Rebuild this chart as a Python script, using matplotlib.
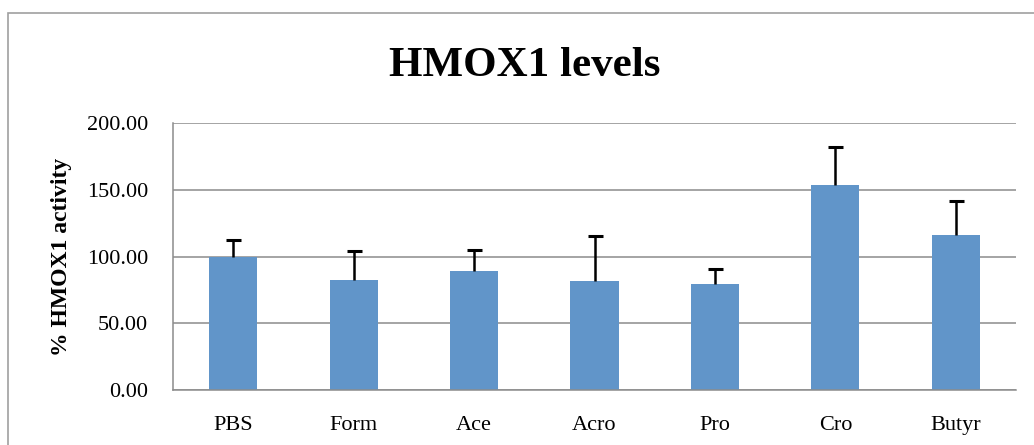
import matplotlib
matplotlib.use("Agg")
import matplotlib.pyplot as plt
from matplotlib.patches import Rectangle

# data
groups = ["PBS", "Form", "Ace", "Acro", "Pro", "Cro", "Butyr"]
activity = [100.0, 82.5, 89.3, 81.8, 79.5, 153.7, 116.2]
err_up = [12.5, 21.5, 15.5, 33.5, 11.0, 28.0, 25.0]
yticks = [0, 50, 100, 150, 200]

plt.rcParams["font.family"] = ["Liberation Serif", "DejaVu Serif"]

fig = plt.figure(figsize=(10.34, 4.45), dpi=100)
ax = fig.add_axes([173 / 1034, 1 - 390 / 445, 843 / 1034, 267 / 445])

x = range(len(groups))
ax.bar(x, activity, width=0.4, color="#6195c9", zorder=2)
eb = ax.errorbar(x, activity, yerr=[[0] * len(err_up), err_up], fmt="none",
                 ecolor="black", elinewidth=1.8, capsize=5.4, capthick=2.2,
                 zorder=3)
# only the upper cap, like the original
eb[1][0].set_visible(False)

ax.set_xlim(-0.5, len(groups) - 0.5)
ax.set_ylim(0, 200)
ax.set_yticks(yticks)
ax.set_yticklabels([f"{v:.2f}" for v in yticks])
ax.set_xticks(list(x))
ax.set_xticklabels(groups)
ax.yaxis.grid(True, color="#8c8c8c", linewidth=1.1, zorder=0)
ax.set_axisbelow(True)
ax.tick_params(length=0, labelsize=16)
ax.tick_params(axis="y", pad=18)
ax.tick_params(axis="x", pad=19)
for s in ["top", "right"]:
    ax.spines[s].set_visible(False)
for s in ["left", "bottom"]:
    ax.spines[s].set_color("#8c8c8c")
    ax.spines[s].set_linewidth(1.1)

ax.set_ylabel("% HMOX1 activity", fontsize=17, fontweight="bold")
ax.yaxis.set_label_coords(-101 / 843, 0.5)
fig.text(525 / 1034, 1 - 66 / 445, "HMOX1 levels", fontsize=31,
         fontweight="bold", ha="center", va="center")

# chart frame
fig.patches.append(Rectangle((8 / 1034, -0.1), 1.2, 1 - 13 / 445 + 0.1,
                             transform=fig.transFigure, fill=False,
                             edgecolor="#a0a0a0", linewidth=1.2))

fig.savefig("out.png", dpi=100)
